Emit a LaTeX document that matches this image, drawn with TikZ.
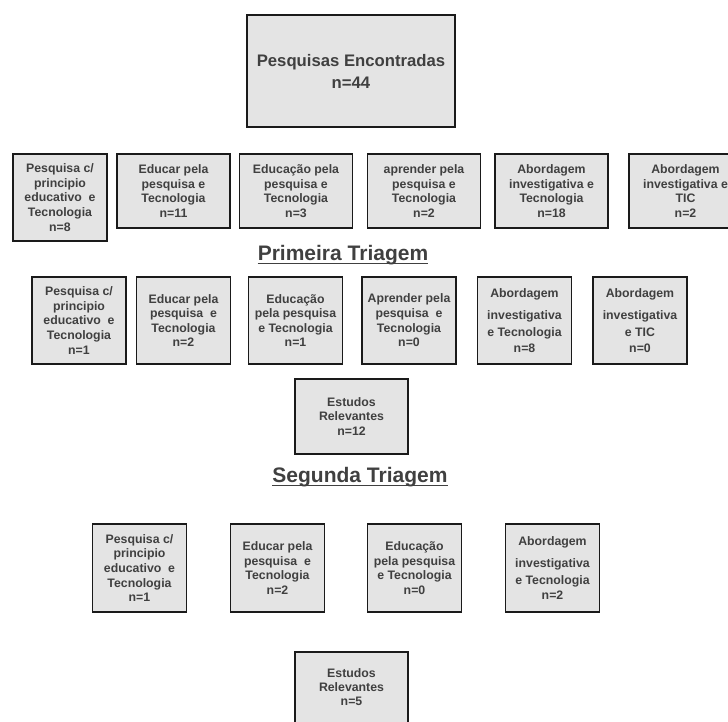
\documentclass[tikz,border=0pt]{standalone}
\usepackage{fontspec}
\setmainfont{Liberation Sans}
\definecolor{boxfill}{HTML}{E4E4E4}
\definecolor{txt}{HTML}{404040}
\definecolor{edge}{HTML}{1A1A1A}
\begin{document}
\begin{tikzpicture}[x=1pt,y=-1pt,
  box/.style={draw=edge, line width=1.8pt, fill=boxfill, inner sep=0pt, align=center,
    text=txt, font=\fontsize{12.3}{14.6}\selectfont\bfseries},
  wbox/.style={box, minimum width=113pt, minimum height=74pt},
  sbox/.style={box, minimum width=94pt, minimum height=87pt},
  hdr/.style={inner sep=0pt, anchor=base, text=txt, font=\fontsize{21}{25}\selectfont\bfseries},
  uline/.style={draw=txt, line width=1.6pt}]
\useasboundingbox (0,0) rectangle (728,722);
% top
\node[box, minimum width=208pt, minimum height=112pt, font=\fontsize{16.7}{22}\selectfont\bfseries] (top) at (351,71) {Pesquisas Encontradas\\n=44};
% row 1
\node[sbox] (a1) at (60,197.5) {Pesquisa c/\\principio\\educativo\ \ e\\Tecnologia\\n=8};
\node[wbox] (a2) at (173.5,191) {Educar pela\\pesquisa e\\Tecnologia\\n=11};
\node[wbox] (a3) at (296,191) {Educação pela\\pesquisa e\\Tecnologia\\n=3};
\node[wbox] (a4) at (424,191) {aprender pela\\pesquisa e\\Tecnologia\\n=2};
\node[wbox] (a5) at (551.5,191) {Abordagem\\investigativa e\\Tecnologia\\n=18};
\node[wbox] (a6) at (685.5,191) {Abordagem\\investigativa e\\TIC\\n=2};
% header 1
\node[hdr] (h1) at (343,260.5) {Primeira Triagem};
\draw[uline] ([yshift=-3pt]h1.base west) -- ([yshift=-3pt]h1.base east);
% row 2
\node[sbox] (b1) at (79,320.5) {Pesquisa c/\\principio\\educativo\ \ e\\Tecnologia\\n=1};
\node[sbox] (b2) at (183.5,320.5) {Educar pela\\pesquisa\ \ e\\Tecnologia\\n=2};
\node[sbox] (b3) at (295.5,320.5) {Educação\\pela pesquisa\\e Tecnologia\\n=1};
\node[sbox] (b4) at (409,320.5) {Aprender pela\\pesquisa\ \ e\\Tecnologia\\n=0};
\node[sbox] (b5) at (524.5,320.5) {Abordagem\\[7pt]investigativa\\[2.5pt]e Tecnologia\\[1pt]n=8};
\node[sbox] (b6) at (640,320.5) {Abordagem\\[7pt]investigativa\\[2.5pt]e TIC\\[1pt]n=0};
% middle
\node[box, minimum width=113pt, minimum height=75pt] (mid) at (351.5,416.5) {Estudos\\Relevantes\\n=12};
% header 2
\node[hdr] (h2) at (360,482.5) {Segunda Triagem};
\draw[uline] ([yshift=-3pt]h2.base west) -- ([yshift=-3pt]h2.base east);
% row 3
\node[sbox, minimum height=88pt] (c1) at (139.5,568) {Pesquisa c/\\principio\\educativo\ \ e\\Tecnologia\\n=1};
\node[sbox, minimum height=88pt] (c2) at (277.5,568) {Educar pela\\pesquisa\ \ e\\Tecnologia\\n=2};
\node[sbox, minimum height=88pt] (c3) at (414.5,568) {Educação\\pela pesquisa\\e Tecnologia\\n=0};
\node[sbox, minimum height=88pt] (c4) at (552.5,568) {Abordagem\\[7pt]investigativa\\[3pt]e Tecnologia\\n=2};
% bottom
\node[box, minimum width=113pt, minimum height=90pt, text depth=0pt] (bot) at (351.5,697) {};
\node[inner sep=0pt, align=center, text=txt, font=\fontsize{12.3}{14.2}\selectfont\bfseries] (bottxt) at (351.5,687) {Estudos\\Relevantes\\n=5};
\end{tikzpicture}
\end{document}
